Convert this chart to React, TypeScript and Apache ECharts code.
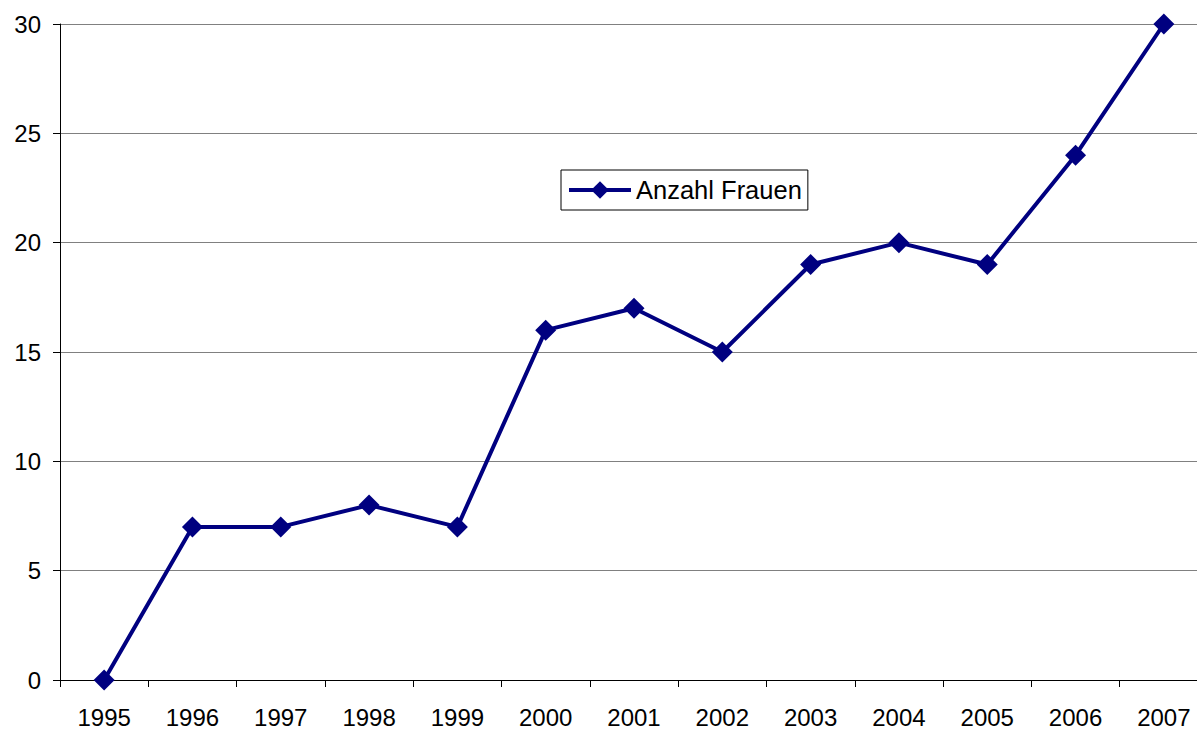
import React, { useEffect, useRef } from "react";
import * as echarts from "echarts";

const years = ["1995","1996","1997","1998","1999","2000","2001","2002","2003","2004","2005","2006","2007"];
const anzahlFrauen = [0, 7, 7, 8, 7, 16, 17, 15, 19, 20, 19, 24, 30];
const seriesName = "Anzahl Frauen";

export default function App() {
  const ref = useRef<HTMLDivElement>(null);
  useEffect(() => {
    document.body.style.margin = "0";
    const chart = echarts.init(ref.current!, null, { renderer: "svg" });
    chart.setOption({
      animation: false,
      backgroundColor: "#ffffff",
      textStyle: { fontFamily: "Liberation Sans, Arial, sans-serif" },
      grid: { left: 60, right: 1, top: 24, bottom: 51, outerBoundsMode: "none" },
      legend: {
        show: true,
        left: 561,
        top: 170,
        orient: "horizontal",
        padding: [7, 6, 7, 6],
        borderColor: "#000",
        borderWidth: 1,
        backgroundColor: "#fff",
        itemWidth: 62,
        itemHeight: 22,
        itemGap: 4,
        lineStyle: { width: 4 },
        textStyle: { fontSize: 25.5, color: "#000", fontFamily: "Liberation Sans, Arial, sans-serif" },
        data: [seriesName],
      },
      xAxis: {
        type: "category",
        data: years,
        boundaryGap: true,
        axisLine: { lineStyle: { color: "#000", width: 1 } },
        axisTick: { show: true, length: 7, alignWithLabel: false, lineStyle: { color: "#000" } },
        axisLabel: { fontSize: 24, color: "#000", margin: 25 },
        splitLine: { show: false },
      },
      yAxis: {
        type: "value",
        min: 0,
        max: 30,
        interval: 5,
        axisLine: { show: true, lineStyle: { color: "#000", width: 1 } },
        axisTick: { show: true, inside: false, length: 7, lineStyle: { color: "#000" } },
        axisLabel: { fontSize: 24, color: "#000", margin: 19 },
        splitLine: { show: true, lineStyle: { color: "#808080", width: 1 } },
      },
      series: [
        {
          name: seriesName,
          type: "line",
          data: anzahlFrauen,
          symbol: "diamond",
          symbolSize: 21,
          showAllSymbol: true,
          lineStyle: { color: "#000080", width: 4 },
          itemStyle: { color: "#000080" },
        },
      ],
    });
    return () => chart.dispose();
  }, []);
  return (
    <div style={{ width: 1197, height: 731, overflow: "hidden", position: "relative" }}>
      <div ref={ref} style={{ width: 1209, height: 731 }} />
    </div>
  );
}
